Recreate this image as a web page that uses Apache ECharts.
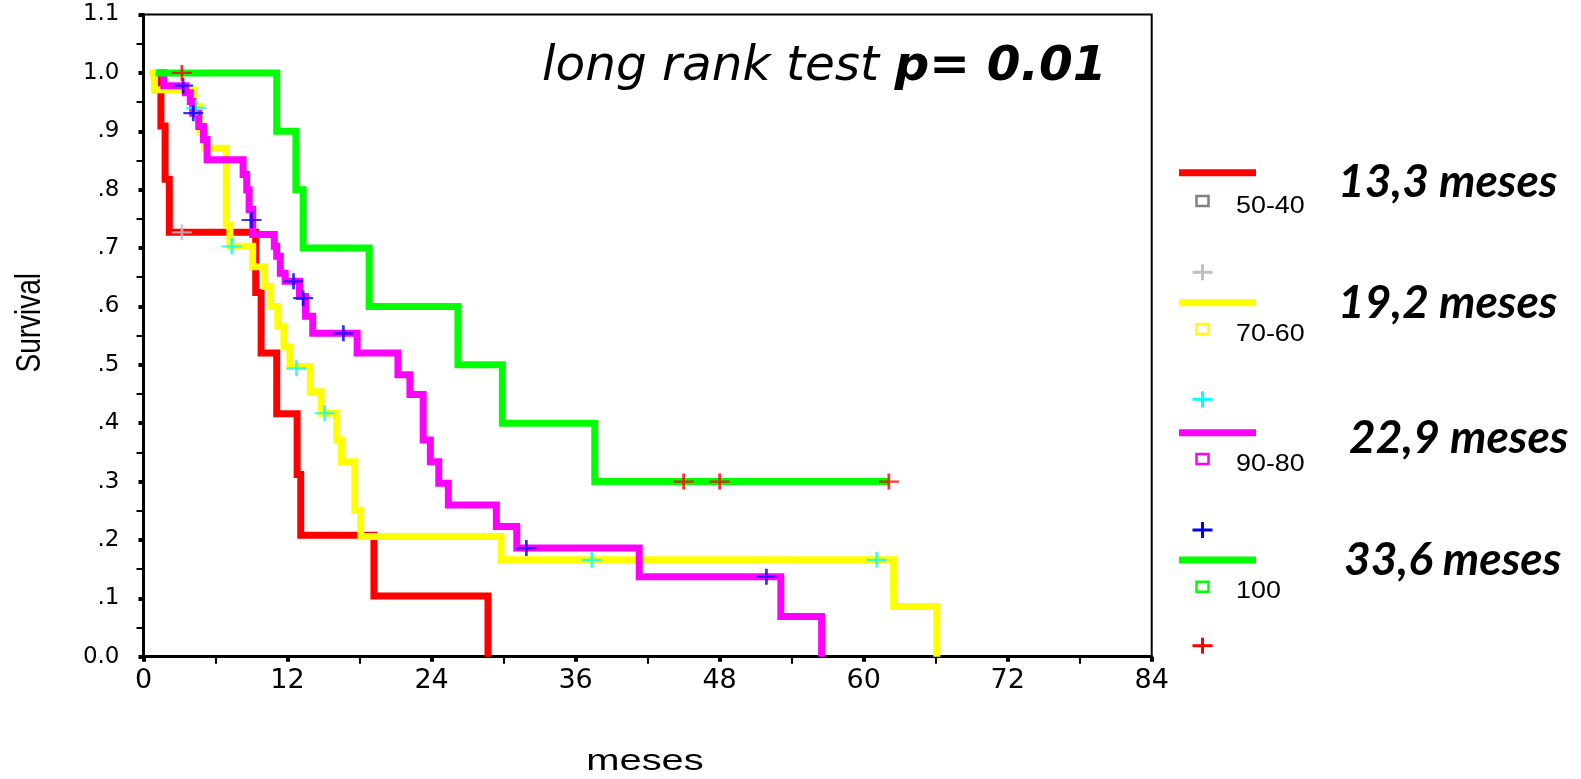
<!DOCTYPE html>
<html>
<head>
<meta charset="utf-8">
<script src="https://cdn.jsdelivr.net/npm/echarts@6/dist/echarts.min.js"></script>
<style>
  html, body { margin: 0; padding: 0; background: #fff; }
  #chart { width: 1581px; height: 779px; }
</style>
</head>
<body>
<div id="chart"></div>
<script>
// Kaplan-Meier steps, [month, survival]
const grp5040 = [[1.2, 1.0], [1.45, 0.909], [1.8, 0.818], [2.15, 0.727], [9.35, 0.624], [9.8, 0.52], [11.1, 0.416], [12.8, 0.312], [13.1, 0.208], [19.2, 0.104], [28.7, 0]];
const grp7060 = [[0.5, 1.0], [0.9, 0.971], [4.2, 0.943], [4.7, 0.9], [5.1, 0.871], [6.9, 0.74], [7.2, 0.703], [9.1, 0.668], [10.1, 0.634], [10.6, 0.6], [11.2, 0.566], [11.7, 0.531], [12.2, 0.497], [13.9, 0.454], [14.8, 0.417], [16.1, 0.371], [16.5, 0.334], [17.6, 0.251], [18.1, 0.206], [29.8, 0.166], [62.5, 0.086], [66.1, 0]];
const grp9080 = [[1.4, 1.0], [1.7, 0.978], [3.5, 0.966], [3.9, 0.951], [4.1, 0.931], [4.6, 0.908], [5.0, 0.886], [5.3, 0.851], [8.3, 0.826], [8.6, 0.8], [8.8, 0.766], [9.1, 0.723], [10.9, 0.703], [11.1, 0.686], [11.4, 0.657], [11.8, 0.643], [13.0, 0.617], [13.5, 0.583], [14.1, 0.554], [17.8, 0.52], [21.2, 0.483], [22.2, 0.449], [23.3, 0.371], [23.9, 0.334], [24.6, 0.297], [25.4, 0.26], [29.4, 0.223], [31.1, 0.186], [41.3, 0.137], [53.1, 0.069], [56.5, 0]];
const grp100 = [[1.0, 1.0], [11.1, 0.9], [12.7, 0.8], [13.3, 0.7], [18.8, 0.6], [26.2, 0.5], [29.9, 0.4], [37.6, 0.3], [62.1, 0.3]];

// censored cases (+)
const cens5040 = [[3.2, 0.727]];
const cens7060 = [[4.4, 0.94], [7.35, 0.703], [12.75, 0.494], [15.1, 0.417], [37.35, 0.166], [61.1, 0.166]];
const cens9080 = [[3.3, 0.978], [4.15, 0.931], [9.0, 0.748], [12.5, 0.643], [13.3, 0.614], [16.65, 0.554], [31.9, 0.186], [51.9, 0.137]];
const cens100 = [[3.2, 1.0], [45.0, 0.3], [48.0, 0.3], [62.1, 0.3]];

const groupNames = ['50-40', '70-60', '90-80', '100'];
const medians = ['13,3 meses', '19,2 meses', '22,9 meses', '33,6 meses'];

const lineColors = ['#ff0000', '#ffff00', '#ff00ff', '#00ff00'];
const squareColors = ['#808080', '#ffff00', '#ff00ff', '#00ff00'];
const plusColors = ['#c0c0c0', '#00ffff', '#0000ff', '#ff0000'];

const plus = 'path://M10,0L10,20M0,10L20,10';

const stepLine = (name, data, color) => ({
  name: name,
  type: 'line',
  step: 'end',
  data: data,
  symbol: 'none',
  silent: true,
  lineStyle: { color: color, width: 7, cap: 'butt', join: 'miter' }
});

const censorPoints = (name, data, color) => ({
  name: name,
  type: 'scatter',
  data: data,
  symbol: plus,
  symbolSize: [20, 16],
  silent: true,
  z: 5,
  itemStyle: { color: 'transparent', borderColor: color, borderWidth: 2.5 }
});

// legend at the right, drawn by hand like the SPSS one
const legendItems = [];
const lineY = [172.7, 302.7, 432.7, 560];
const boxY = [201, 329, 459, 586.7];
const plusY = [272.3, 399.3, 530, 645.7];
const medianY = [181.7, 303.3, 438.3, 560];
const medianX = [1338, 1338, 1349, 1344];
for (let i = 0; i < 4; i++) {
  legendItems.push({
    type: 'line',
    shape: { x1: 1179, y1: lineY[i], x2: 1256, y2: lineY[i] },
    style: { stroke: lineColors[i], lineWidth: 7 }
  });
  legendItems.push({
    type: 'rect',
    shape: { x: 1196.5, y: boxY[i] - 5, width: 12, height: 10 },
    style: { fill: '#fff', stroke: squareColors[i], lineWidth: 2.5 }
  });
  legendItems.push({
    type: 'text',
    x: 1236, y: boxY[i] + 5, scaleX: 1.12,
    style: { text: groupNames[i], fill: '#000', font: '24px "Liberation Sans", Arial, sans-serif', align: 'left', verticalAlign: 'middle' }
  });
  legendItems.push({
    type: 'polyline',
    shape: { points: [[1192.5, plusY[i]], [1212.5, plusY[i]]] },
    style: { stroke: plusColors[i], lineWidth: 3 }
  });
  legendItems.push({
    type: 'polyline',
    shape: { points: [[1202.5, plusY[i] - 8], [1202.5, plusY[i] + 8]] },
    style: { stroke: plusColors[i], lineWidth: 3 }
  });
  legendItems.push({
    type: 'text',
    x: medianX[i], y: medianY[i],
    style: { text: medians[i], fill: '#000', font: 'italic bold 46px Lato, "Open Sans", sans-serif', align: 'left', verticalAlign: 'middle' }
  });
}

const yTickLabel = function (v) {
  if (v === 0) return '0.0';
  if (v >= 0.999) return v.toFixed(1);
  return '.' + Math.round(v * 10);
};

const option = {
  animation: false,
  backgroundColor: '#fff',
  textStyle: { fontFamily: 'DejaVu Sans' },
  grid: {
    left: 143.5, top: 14.5, right: 429.3, bottom: 122.3,
    containLabel: false,
    show: true, borderColor: '#000', borderWidth: 2
  },
  xAxis: {
    type: 'value',
    min: 0, max: 84, interval: 12,
    axisLine: { show: true, onZero: false, lineStyle: { color: '#000', width: 3 } },
    axisTick: { show: true, length: 5, lineStyle: { color: '#000', width: 4 } },
    minorTick: { show: true, splitNumber: 2, length: 7, lineStyle: { color: '#000', width: 2 } },
    splitLine: { show: false },
    axisLabel: { show: true, color: '#000', fontFamily: 'DejaVu Sans', fontSize: 27, margin: 11 }
  },
  yAxis: {
    type: 'value',
    min: 0, max: 1.1, interval: 0.1,
    axisLine: { show: true, onZero: false, lineStyle: { color: '#000', width: 3 } },
    axisTick: { show: true, length: 5, lineStyle: { color: '#000', width: 4 } },
    minorTick: { show: true, splitNumber: 2, length: 7, lineStyle: { color: '#000', width: 2 } },
    splitLine: { show: false },
    axisLabel: { show: true, color: '#000', fontFamily: 'DejaVu Sans', fontSize: 23, margin: 24, formatter: yTickLabel }
  },
  graphic: [
    {
      type: 'text',
      x: 30, y: 322.7, rotation: Math.PI / 2, scaleY: 1.28,
      style: { text: 'Survival', fill: '#000', font: '28px "Liberation Sans", Arial, sans-serif', align: 'center', verticalAlign: 'middle' }
    },
    {
      type: 'text',
      x: 645, y: 762, scaleX: 1.33,
      style: { text: 'meses', fill: '#000', font: '30px "Liberation Sans", Arial, sans-serif', align: 'center', verticalAlign: 'middle' }
    },
    {
      type: 'text',
      x: 542, y: 67,
      style: {
        text: '{n|long rank test }{b|p= 0.01}',
        align: 'left', verticalAlign: 'middle',
        rich: {
          n: { fill: '#000', fontFamily: 'DejaVu Sans', fontStyle: 'italic', fontSize: 48.5 },
          b: { fill: '#000', fontFamily: 'DejaVu Sans', fontStyle: 'italic', fontWeight: 'bold', fontSize: 48.5 }
        }
      }
    },
    ...legendItems
  ],
  series: [
    stepLine('50-40', grp5040, lineColors[0]),
    stepLine('70-60', grp7060, lineColors[1]),
    stepLine('90-80', grp9080, lineColors[2]),
    stepLine('100', grp100, lineColors[3]),
    censorPoints('50-40 censored', cens5040, plusColors[0]),
    censorPoints('70-60 censored', cens7060, plusColors[1]),
    censorPoints('90-80 censored', cens9080, plusColors[2]),
    censorPoints('100 censored', cens100, plusColors[3])
  ]
};

const myChart = echarts.init(document.getElementById('chart'));
myChart.setOption(option);
</script>
</body>
</html>
